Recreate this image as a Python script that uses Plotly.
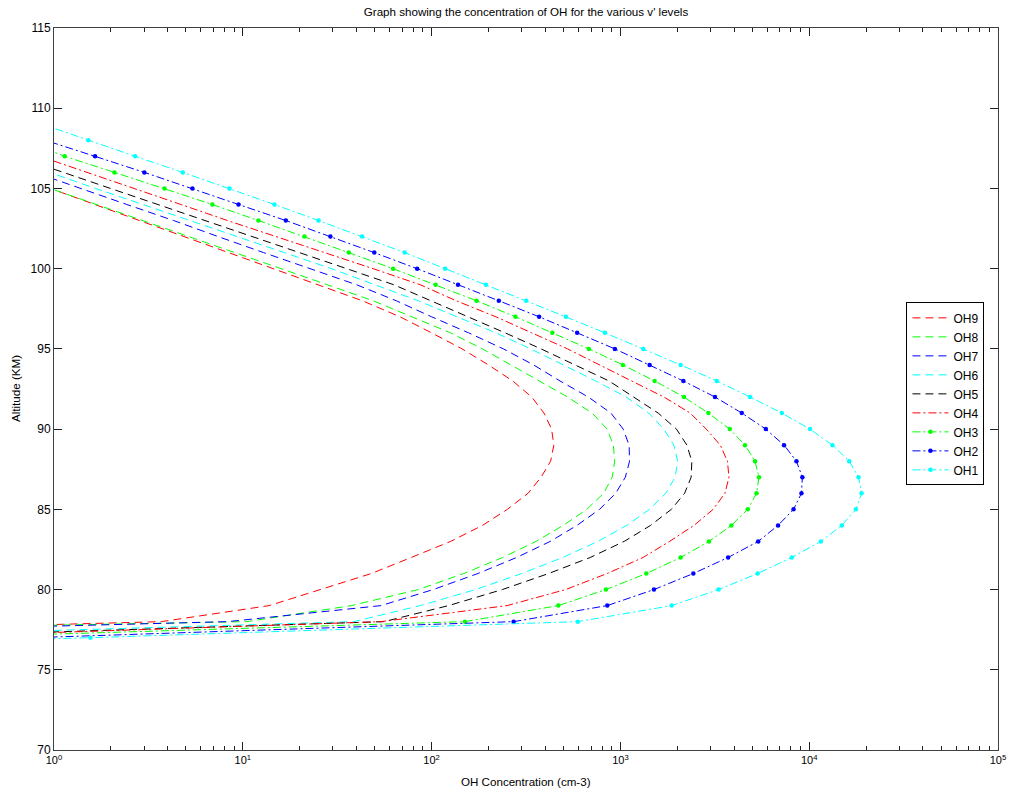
import plotly.graph_objects as go

# Altitude grid (km) shared by all profiles
ALT = list(range(76, 110))

# OH number density (cm-3) per vibrational level, one value per altitude in ALT
# (None where a profile has no sample)
OH1 = [0.001, 1.56, 595, 1870, 3310, 5335, 8090, 11530, 14890, 17670, 18940, 18250,
       16290, 13280, 10100, 7160, 4860, 3240, 2085, 1322, 828, 514, 317, 194, 118,
       72, 42.8, 25.2, 14.7, 8.5, 4.81, 2.69, 1.52, 0.87]
OH2 = [None, 0.78, 272, 852, 1506, 2434, 3720, 5370, 6840, 8260, 9100, 9200, 8560,
       7360, 5890, 4395, 3170, 2155, 1428, 935, 590, 371, 227, 138, 83.8, 49.7,
       29.1, 16.9, 9.49, 5.41, 3.01, 1.65, 0.9, None]
OH3 = [None, 0.24, 150, 469, 838, 1372, 2085, 2946, 3873, 4725, 5260, 5420, 5165,
       4570, 3795, 2924, 2172, 1518, 1031, 681, 436, 278, 173, 105, 62.5, 36.4,
       21.2, 12.1, 6.9, 3.85, 2.09, 1.14, 0.7, None]
OH4 = [None, 0.15, 54, 251, 513, 851, 1318, 1820, 2455, 3100, 3580, 3758, 3690,
       3380, 2851, 2344, 1700, 1148, 776, 525, 339, 219, 135, 87, 49, 26.9, 14.8,
       8.3, 4.7, 2.63, 1.48, 0.845, None, None]
OH5 = [None, 0.105, 56, 123, 237, 417, 692, 1047, 1445, 1862, 2188, 2370, 2390,
       2250, 1982, 1585, 1175, 871, 575, 380, 245, 155, 100, 63, 35.5, 20, 11.5,
       6.46, 3.63, 2.04, 1.15, 0.63, None, None]
OH6 = [None, 0.049, 38.7, 87, 171, 300, 495, 759, 1081, 1426, 1738, 1950, 2010,
       1920, 1698, 1413, 1072, 741, 501, 335, 219, 138, 85, 50, 29.5, 16.6, 9.3,
       5.2, 2.95, 1.66, 0.946, None, None, None]
OH7 = [None, 0.0043, 8.3, 54, 102, 176, 282, 425, 589, 776, 944, 1062, 1118, 1112,
       1035, 891, 676, 479, 347, 240, 157, 100, 65, 40, 22.4, 12.9, 7.4, 4.3, 2.43,
       1.38, 0.79, None, None, None]
OH8 = [None, 0.00025, 10.5, 37.6, 85, 148, 238, 357, 498, 664, 815, 905, 933, 918,
       851, 708, 525, 372, 263, 186, 126, 79, 49, 28, 16, 9.1, 5.1, 2.95, 1.7,
       0.955, None, None, None, None]
OH9 = [None, 0.0025, 3.7, 13.8, 26, 48, 78, 126, 186, 252, 324, 380, 427, 444, 432,
       394, 339, 269, 200, 145, 100, 68, 43, 25, 14.5, 8.3, 4.8, 2.8, 1.64, 0.955,
       None, None, None, None]

NAMES = ["OH9", "OH8", "OH7", "OH6", "OH5", "OH4", "OH3", "OH2", "OH1"]
SERIES = [OH9, OH8, OH7, OH6, OH5, OH4, OH3, OH2, OH1]
COLORS = ["#ff0000", "#00ff00", "#0000ff", "#00ffff", "#000000",
          "#ff0000", "#00ff00", "#0000ff", "#00ffff"]
DASHED = "8px,5px"
DASHDOT = "8px,3px,2px,3px"
STYLES = [DASHED] * 5 + [DASHDOT] * 4
WITH_MARKERS = [False] * 6 + [True] * 3

X_TICKS = [1, 10, 100, 1000, 10000, 100000]
X_TICK_TEXT = ["10<sup>0</sup>", "10<sup>1</sup>", "10<sup>2</sup>",
               "10<sup>3</sup>", "10<sup>4</sup>", "10<sup>5</sup>"]
X_MINOR = [m * 10 ** k for k in range(5) for m in range(2, 10)]

FONT = "Liberation Sans, Arial, sans-serif"

fig = go.Figure()
for name, vals, color, dash, mk in zip(NAMES, SERIES, COLORS, STYLES, WITH_MARKERS):
    fig.add_trace(go.Scatter(
        x=vals, y=ALT, name=name,
        mode="lines+markers" if mk else "lines",
        line=dict(color=color, width=1, dash=dash),
        marker=dict(symbol="circle", size=4.5, color=color),
    ))

axis_common = dict(
    showline=True, linecolor="#404040", linewidth=1, mirror="ticks",
    ticks="inside", ticklen=8, tickcolor="#202020", tickwidth=1,
    showgrid=False, zeroline=False,
)

fig.update_layout(
    width=1017, height=796,
    margin=dict(l=54, r=19, t=28, b=46, autoexpand=False),
    paper_bgcolor="#ffffff", plot_bgcolor="#ffffff",
    font=dict(family=FONT, size=11, color="#000000"),
    title=dict(text="Graph showing the concentration of OH for the various v' levels",
               x=0.5, xref="paper", xanchor="center",
               y=1 - 12 / 796, yref="container", yanchor="middle",
               font=dict(family=FONT, size=11.6, color="#000000")),
    xaxis=dict(type="log", range=[0, 5], tickmode="array",
               tickvals=X_TICKS, ticktext=X_TICK_TEXT,
               tickfont=dict(family=FONT, size=11, color="#000000"),
               minor=dict(tickmode="array", tickvals=X_MINOR, ticks="inside",
                          ticklen=4, tickcolor="#202020", showgrid=False),
               **axis_common),
    yaxis=dict(range=[70, 115], dtick=5, tick0=70,
               tickfont=dict(family=FONT, size=12, color="#000000"),
               **axis_common),
    legend=dict(x=0.903, y=0.620, xanchor="left", yanchor="top",
                bordercolor="#000000", borderwidth=1, bgcolor="#ffffff",
                font=dict(family=FONT, size=12, color="#000000"),
                itemwidth=36, tracegroupgap=0),
    showlegend=True,
    annotations=[
        dict(text="OH Concentration (cm-3)", xref="paper", yref="paper",
             x=0.5, y=-0.0434, xanchor="center", yanchor="middle",
             showarrow=False, font=dict(family=FONT, size=11.6)),
        dict(text="Altitude (KM)", xref="paper", yref="paper",
             x=-0.0413, y=0.5, xanchor="center", yanchor="middle",
             textangle=-90, showarrow=False, font=dict(family=FONT, size=11.6)),
    ],
)

fig.write_html("out.html")
